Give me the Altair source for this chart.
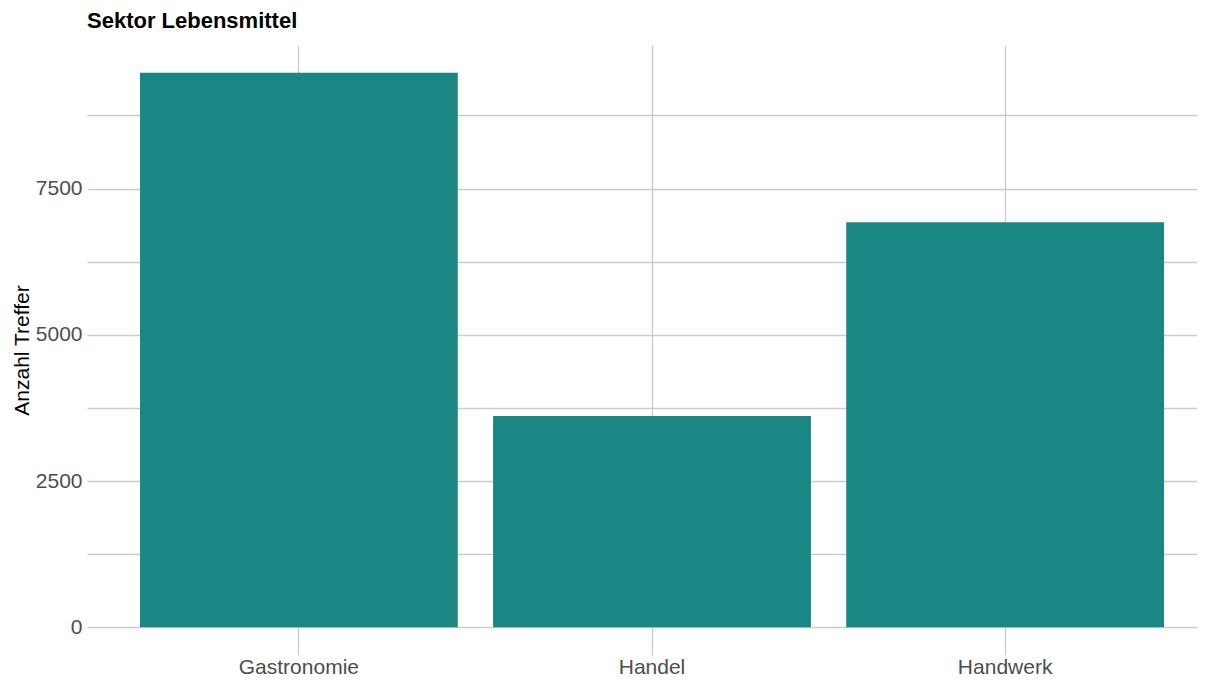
import altair as alt
import pandas as pd

categories = ["Gastronomie", "Handel", "Handwerk"]
counts = [9480, 3612, 6924]
y_tick_values = [0, 1250, 2500, 3750, 5000, 6250, 7500, 8750]

df = pd.DataFrame({"Sektor": categories, "Anzahl": counts})

FONT = "Liberation Sans"
GRID = "#CCCCCC"

chart = alt.Chart(df).mark_bar(color="#1B8785").encode(
    x=alt.X(
        "Sektor:N",
        sort=categories,
        title=None,
        scale=alt.Scale(range=[0, 1130], paddingInner=0.1, paddingOuter=0.15),
        axis=alt.Axis(
            grid=True, gridColor=GRID, gridWidth=1.4,
            ticks=False, tickSize=0, domain=False, labelAngle=0,
            labelPadding=1, labelFontSize=21, labelColor="#4D4D4D",
            labelFont=FONT, bandPosition=0.5, labelBaseline="top",
        ),
    ),
    y=alt.Y(
        "Anzahl:Q",
        title="Anzahl Treffer",
        scale=alt.Scale(domain=[-474, 9955], nice=False, zero=False),
        axis=alt.Axis(
            values=y_tick_values, format="d",
            labelExpr="datum.value % 2500 == 0 ? datum.label : ''",
            grid=True, gridColor=GRID, gridWidth=1.4,
            ticks=False, tickSize=0, domain=False,
            labelPadding=5, labelFontSize=21, labelColor="#4D4D4D", labelFont=FONT,
            titleFont=FONT, titleFontSize=21, titleFontWeight="normal",
            titleColor="black", titlePadding=3,
        ),
    ),
    y2=alt.datum(0),
).properties(
    width=1110,
    height=610,
    autosize=alt.AutoSizeParams(type="none"),
    padding={"left": 79, "top": 37, "right": 0, "bottom": 23},
    title=alt.TitleParams(
        "Sektor Lebensmittel", anchor="start", frame="group",
        fontSize=22, fontWeight="bold", font=FONT, color="black",
        baseline="alphabetic", offset=-5,
    ),
).configure_view(stroke=None)

chart.save("out.html", embed_options={"renderer": "svg", "actions": False})
